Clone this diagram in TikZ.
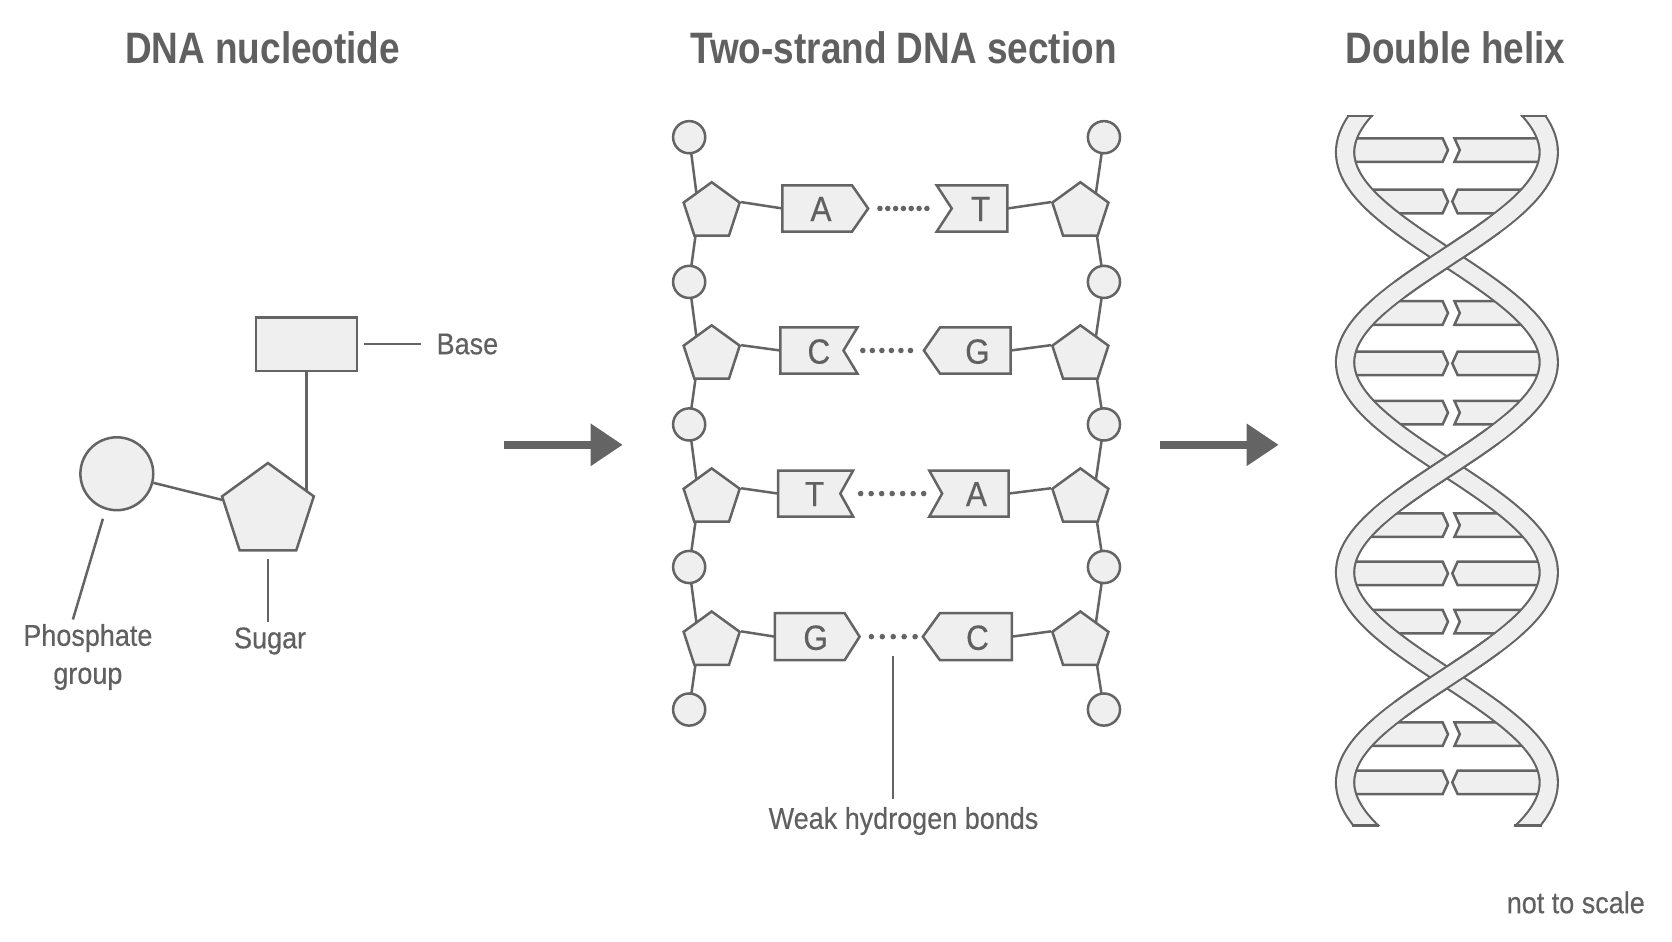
\documentclass[tikz,border=0pt]{standalone}
\usepackage{fontspec}
\setmainfont{Liberation Sans}[FakeStretch=0.84]
\newfontfamily\labfont{Liberation Sans}[FakeStretch=0.9,FakeBold=0.4]
\usetikzlibrary{shapes.geometric,arrows.meta,backgrounds}
\definecolor{ink}{HTML}{646464}
\definecolor{txt}{HTML}{606060}
\definecolor{paper}{HTML}{EFEFEF}
\def\uu{0.536pt}
\begin{document}
\begin{tikzpicture}[x=\uu,y=-\uu,line width=1.25pt,
  stroke/.style={draw=ink,fill=paper,line width=1.25pt},
  phos/.style={circle,stroke,inner sep=0pt,minimum size=30*\uu},
  sug/.style={regular polygon,regular polygon sides=5,stroke,inner sep=0pt,minimum size=55*\uu},
  title/.style={text=txt,font=\bfseries\fontsize{22}{26}\selectfont},
  lab/.style={text=txt,font=\labfont\fontsize{15}{19}\selectfont},
  letter/.style={text=txt,font=\labfont\fontsize{17.5}{20}\selectfont},
  conn/.style={draw=ink,line width=1.25pt},
  bigarrow/.style={draw=ink,line width=7*\uu,-{Triangle[length=30*\uu,width=38*\uu]}},
  hdot/.style={fill=ink,draw=none},
]
\useasboundingbox (0,0) rectangle (1560,878);

% ---------- titles ----------
\node[title] (t1) at (245,45) {DNA nucleotide};
\node[title] (t2) at (843,45) {Two-strand DNA section};
\node[title] (t3) at (1358,45) {Double helix};

% ---------- nucleotide ----------
\node[circle,stroke,minimum size=68*\uu,inner sep=0pt] (P) at (109,442) {};
\node[regular polygon,regular polygon sides=5,stroke,inner sep=0pt,minimum size=90*\uu] (S) at (250,477) {};
\node[rectangle,stroke,minimum width=94*\uu,minimum height=50*\uu,inner sep=0pt] (B) at (286,321) {};
\begin{scope}[on background layer]
\draw[conn] (P) -- (S.center);
\draw[conn] (B.south) -- (B.south |- S.center);
\end{scope}
\coordinate (bl1) at (340,321); \coordinate (bl2) at (393,321);
\draw[conn] (bl1) -- (bl2);
\node[lab,anchor=west] (lb) at (400,321) {Base};
\coordinate (pl1) at (96,484); \coordinate (pl2) at (68,578);
\draw[conn] (pl1) -- (pl2);
\node[lab,align=center] (lp) at (82,613) {Phosphate\\group};
\coordinate (sl1) at (250,522); \coordinate (sl2) at (250,580);
\draw[conn] (sl1) -- (sl2);
\node[lab] (ls) at (252,598) {Sugar};

% ---------- arrows ----------
\coordinate (a1) at (470,415); \coordinate (a2) at (581,415);
\draw[bigarrow] (a1) -- (a2);
\coordinate (a3) at (1082,415); \coordinate (a4) at (1193,415);
\draw[bigarrow] (a3) -- (a4);

% ---------- two strand ----------
\foreach \i/\y in {0/128,1/263,2/396,3/529,4/662}{
  \node[phos] (lp\i) at (643,\y) {};
  \node[phos] (rp\i) at (1030,\y) {};
}
\foreach \i/\y in {1/197.5,2/331,3/464.5,4/598}{
  \node[sug] (ls\i) at (664,\y) {};
  \node[sug] (rs\i) at (1008,\y) {};
}
\begin{scope}[on background layer]
\foreach \i/\j in {0/1,1/2,2/3,3/4}{
  \draw[conn] (lp\i.center) -- ([xshift=-12*\uu]ls\j.center);
  \draw[conn] (rp\i.center) -- ([xshift=12*\uu]rs\j.center);
}
\foreach \i/\j in {1/1,2/2,3/3,4/4}{
  \draw[conn] ([xshift=-12*\uu]ls\i.center) -- (lp\i.center);
  \draw[conn] ([xshift=12*\uu]rs\i.center) -- (rp\i.center);
}
\end{scope}

% row 1: A (point) ... T (notch)
\draw[stroke] (730,173) -- (795,173) -- (810,194.5) -- (795,216) -- (730,216) -- cycle;
\node[letter] (bA1) at (766,195) {A};
\draw[stroke] (874,173) -- (940,173) -- (940,216) -- (874,216) -- (888,194.5) -- cycle;
\node[letter] (bT1) at (915,195) {T};
\draw[conn] (ls1.corner 5) -- (730,194.5);
\draw[conn] (rs1.corner 2) -- (940,194.5);
\foreach \k in {0,...,6} \fill[hdot] (821+\k*7.3,194.5) circle (2.6);

% row 2: C (notch) ... G (point)
\draw[stroke] (728,305.5) -- (800,305.5) -- (787,327) -- (800,348.5) -- (728,348.5) -- cycle;
\node[letter] (bC2) at (764,328) {C};
\draw[stroke] (862,327) -- (877,305.5) -- (943,305.5) -- (943,348.5) -- (877,348.5) -- cycle;
\node[letter] (bG2) at (912,328) {G};
\draw[conn] (ls2.corner 5) -- (728,327);
\draw[conn] (rs2.corner 2) -- (943,327);
\foreach \k in {0,...,5} \fill[hdot] (805+\k*8.9,327) circle (2.6);

% row 3: T (notch) ... A (notch)
\draw[stroke] (726,439) -- (796,439) -- (784,460.5) -- (796,482) -- (726,482) -- cycle;
\node[letter] (bT3) at (760,461) {T};
\draw[stroke] (867,439) -- (941,439) -- (941,482) -- (867,482) -- (879,460.5) -- cycle;
\node[letter] (bA3) at (911,461) {A};
\draw[conn] (ls3.corner 5) -- (726,460.5);
\draw[conn] (rs3.corner 2) -- (941,460.5);
\foreach \k in {0,...,6} \fill[hdot] (803+\k*9.8,460.5) circle (2.6);

% row 4: G (point) ... C (point)
\draw[stroke] (723,572) -- (788,572) -- (802,594) -- (788,616) -- (723,616) -- cycle;
\node[letter] (bG4) at (761,595) {G};
\draw[stroke] (861,594) -- (877,572) -- (944,572) -- (944,616) -- (877,616) -- cycle;
\node[letter] (bC4) at (912,595) {C};
\draw[conn] (ls4.corner 5) -- (723,594);
\draw[conn] (rs4.corner 2) -- (944,594);
\foreach \k in {0,...,4} \fill[hdot] (813+\k*10.2,594) circle (2.6);

\coordinate (w1) at (833,612); \coordinate (w2) at (833,745);
\draw[conn] (w1) -- (w2);
\node[lab] (lw) at (843,766) {Weak hydrogen bonds};

% ---------- double helix ----------
% rungs
\foreach \y/\t in {140/1,188/0,292/1,339/0,385/1,490/1,535/0,580/1,685/1,730/0}{
  \pgfmathsetmacro{\e}{95*abs(cos((\y-142)*0.918367))}
  \draw[stroke] ({1350-\e},\y-11) -- (1346,\y-11) -- (1351,\y) -- (1346,\y+11) -- ({1350-\e},\y+11) -- cycle;
  \ifnum\t=1
    \draw[stroke] (1357,\y-11) -- ({1350+\e},\y-11) -- ({1350+\e},\y+11) -- (1357,\y+11) -- (1362,\y) -- cycle;
  \else
    \draw[stroke] (1355,\y) -- (1360,\y-11) -- ({1350+\e},\y-11) -- ({1350+\e},\y+11) -- (1360,\y+11) -- cycle;
  \fi
}
\begin{scope}
\clip (1200,108) rectangle (1520,770);
\draw[ink,line width=19*\uu] plot[smooth,domain=80:800,samples=160,variable=\y] ({1350+95*cos((\y-142)*0.918367)},\y);
\draw[paper,line width=15*\uu] plot[smooth,domain=80:800,samples=160,variable=\y] ({1350+95*cos((\y-142)*0.918367)},\y);
\draw[ink,line width=19*\uu] plot[smooth,domain=80:800,samples=160,variable=\y] ({1350-95*cos((\y-142)*0.918367)},\y);
\draw[paper,line width=15*\uu] plot[smooth,domain=80:800,samples=160,variable=\y] ({1350-95*cos((\y-142)*0.918367)},\y);
% front strands at crossings
\foreach \c/\s in {240/1,437/-1,632/1}{
  \draw[ink,line width=19*\uu] plot[smooth,domain={\c-30}:{\c+30},samples=30,variable=\y] ({1350+\s*95*cos((\y-142)*0.918367)},\y);
  \draw[paper,line width=15*\uu] plot[smooth,domain={\c-45}:{\c+45},samples=40,variable=\y] ({1350+\s*95*cos((\y-142)*0.918367)},\y);
}
\end{scope}
\draw[ink,line width=1.25pt] (1419,108) -- (1443,108);
\draw[ink,line width=1.25pt] (1257,108) -- (1281,108);
\draw[ink,line width=1.25pt] (1261,770) -- (1287,770);
\draw[ink,line width=1.25pt] (1413,770) -- (1439,770);

\node[lab,anchor=east] (nts) at (1542,842) {not to scale};
\end{tikzpicture}
\end{document}
